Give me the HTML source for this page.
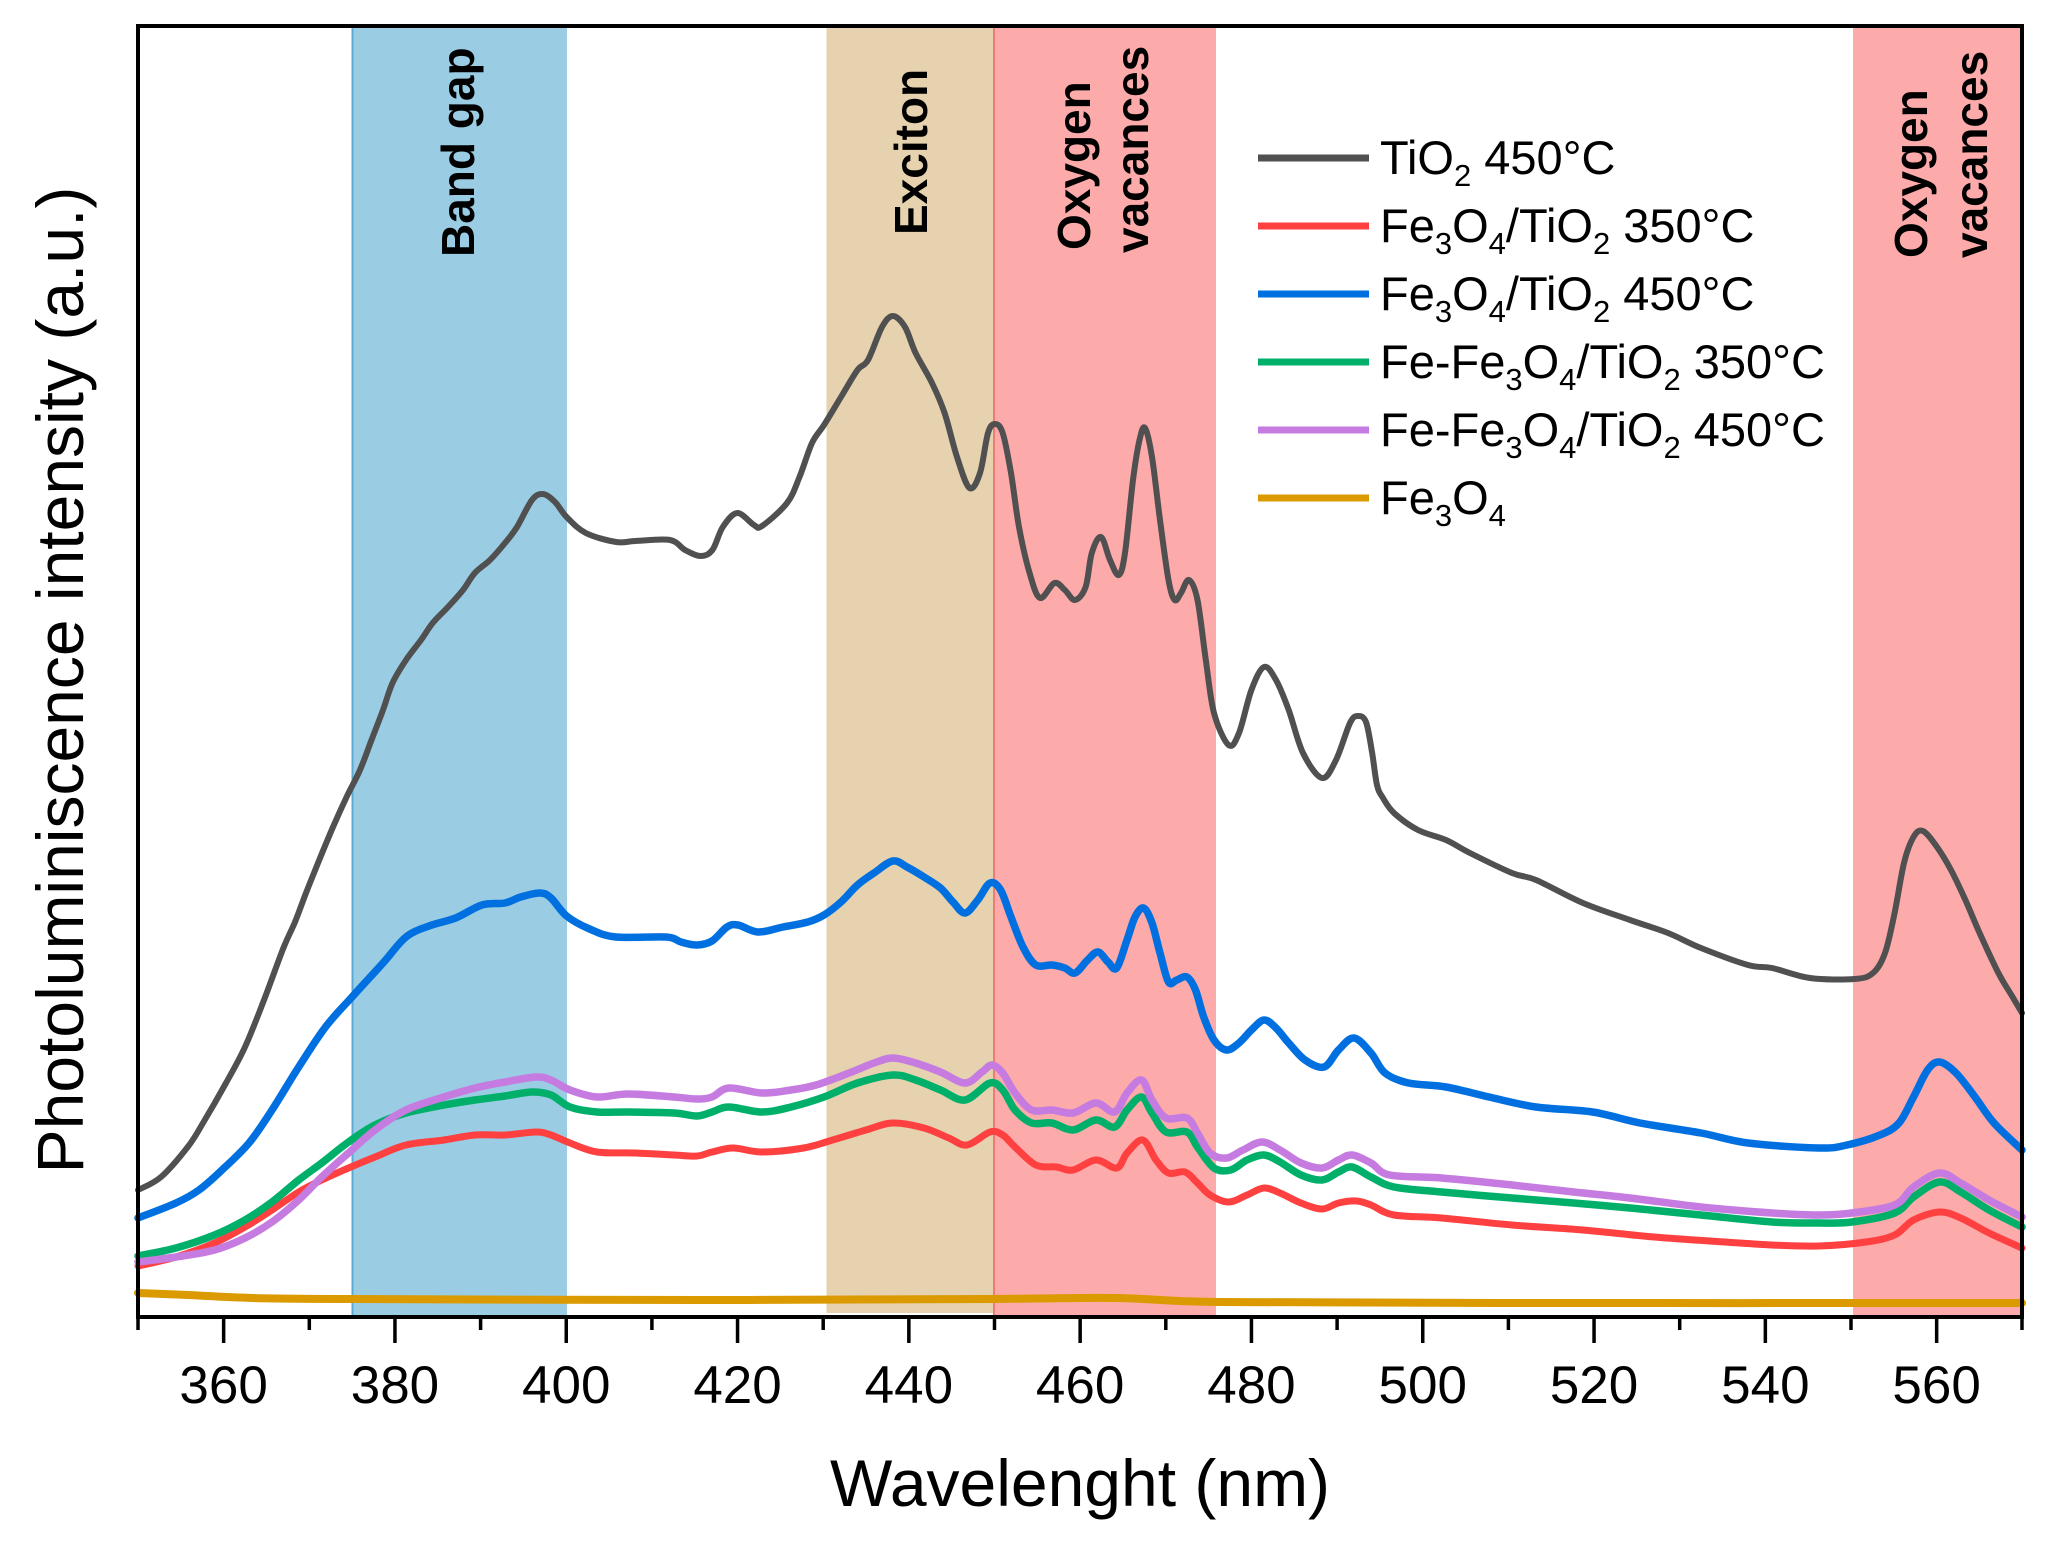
<!DOCTYPE html>
<html>
<head>
<meta charset="utf-8">
<style>
html,body{margin:0;padding:0;background:#fff;}
svg{display:block;}
text{font-family:"Liberation Sans",Arial,sans-serif;fill:#000;}
</style>
</head>
<body>
<svg id="chart" width="2054" height="1544" viewBox="0 0 2054 1544" xmlns="http://www.w3.org/2000/svg">
<rect x="0" y="0" width="2054" height="1544" fill="#fff"/>

<!-- shaded bands -->
<rect x="352" y="27" width="215" height="1290" fill="#9ACDE4"/>
<line x1="352.5" y1="27" x2="352.5" y2="1317" stroke="#5AAAD4" stroke-width="2"/>
<rect x="826.5" y="27" width="167" height="1286" fill="#E6D2AE"/>
<rect x="993.5" y="27" width="222.5" height="1290" fill="#FDAAAA"/>
<line x1="994" y1="27" x2="994" y2="1317" stroke="#EE7C74" stroke-width="2"/>
<rect x="1853" y="27" width="169" height="1290" fill="#FDAAAA"/>

<!-- band labels -->
<g font-weight="bold" font-size="46">
<text transform="translate(474,257) rotate(-90)">Band gap</text>
<text transform="translate(927,235) rotate(-90)">Exciton</text>
<text transform="translate(1090,250) rotate(-90)">Oxygen</text>
<text transform="translate(1148,253) rotate(-90)">vacances</text>
<text transform="translate(1927,258) rotate(-90)">Oxygen</text>
<text transform="translate(1987,258) rotate(-90)">vacances</text>
</g>

<!-- curves -->
<g id="curves" fill="none" stroke-linejoin="round" stroke-linecap="round">
<polyline stroke="#505050" stroke-width="6" points="138,1190 161,1177 187.7,1147 203,1123 226,1083 245,1047 264,1000 283.4,948 295,922 306,893 318,863 333,827 346.6,797 360,770 371.5,740 383,710 392.5,683 406,660 421,640 432.7,623 448,607 463,590 474.8,573 490,560 505,543 517,527 532,500 543,494 555,502 566.6,517 585.8,533 616,542 635.5,541 670,540 685,550 700.6,556 712.4,550 722.8,527 737.3,513 754,525 762,526 787,503 799.5,477 812,443 824,425 841,397 857.5,370 868,360 882,327 892.8,316 905,327 915.6,353 932,383 944.6,413 957,457 969.5,488 980,473 988,433 995,424 1002.7,433 1011,473 1019,527 1029.6,573 1040,598 1054.5,583 1064.8,590 1075,600 1085.6,587 1091.8,553 1101,537 1110,560 1118.7,575 1125,553 1133,480 1139.5,440 1145,428 1152,457 1160,520 1168.5,580 1174.7,600 1181,593 1189,580 1197.5,600 1205.8,660 1214,713 1228.6,745 1239,733 1251.4,690 1264,667 1276,680 1288.7,710 1303,753 1322,778 1336,760 1350,723 1358,716 1366,722 1372,752 1377,785 1383,798 1394,813 1418,830 1446,840 1470,853 1512,873 1536,880 1583,903 1630,920 1668,933 1701,948 1748,965 1772,968 1810,978 1854.5,979 1873,973 1885,953 1894.6,913 1904,863 1913.5,837 1923,831 1937,847 1951,870 1965.4,900 1979.6,933 1998.4,973 2012.6,997 2022,1013"/>

<polyline stroke="#FF4040" stroke-width="7" points="138,1266 176,1257 214.5,1243 245,1227 272,1210 298.7,1192 321.7,1180 348.5,1168 375,1157 406,1145 444,1140 475,1135 505,1135 536,1132 551,1135 570,1143 597,1152 635.5,1153 674,1155 697,1156 712,1152 733,1148 762,1152 803.6,1148 832.7,1140 866,1130 892.8,1123 924,1128 948.8,1138 967,1145 990,1132 1002.7,1135 1015,1147 1035.8,1165 1056.5,1167 1073,1170 1096,1160 1116.7,1168 1127,1153 1142.8,1140 1156,1160 1168.5,1173 1185,1172 1197.5,1183 1210,1195 1228.6,1202 1247,1195 1264,1188 1280,1193 1301,1203 1322,1209 1338.5,1203 1356.6,1201 1371,1205 1394,1215 1441.6,1218 1512,1225 1583,1230 1654,1237 1725,1242 1772,1245 1819,1246 1866,1242 1894.6,1235 1913.5,1220 1939.5,1212 1960.7,1218 1989,1233 2022,1248"/>

<polyline stroke="#0070E0" stroke-width="7.5" points="138,1218 176,1203 199,1190 222,1170 249,1143 272,1110 298.7,1067 325.5,1027 352,997 383,963 406,937 429,926 455.6,918 482,905 505,903 520.7,897 540,893 551,898 566.6,916 589.6,929 616,937 666,937 681,942 697,945 712,941 727,927 738,925 758,932 783,927 807.8,922 824,915 841,902 857.5,885 874,873 892.8,861 907,867 924,877 940.5,888 953,902 965,913 977.8,900 990,883 1000.6,890 1011,917 1023,947 1035.8,965 1052,965 1064.8,968 1075,973 1087.6,960 1098,952 1108,962 1116.7,968 1127,940 1135,917 1143.6,908 1152,923 1160,953 1168.5,982 1176.8,980 1187,977 1195.5,990 1203.7,1017 1214,1040 1226.5,1050 1239,1043 1251.4,1030 1264,1020 1276,1028 1288.7,1043 1305,1060 1324,1067 1338.5,1050 1354,1038 1371,1053 1385,1073 1408.5,1083 1446,1087 1489,1097 1536,1107 1592.6,1112 1640,1123 1701,1133 1748,1143 1819,1148 1847,1145 1880,1135 1899,1123 1913.5,1097 1927.6,1070 1939.5,1062 1956,1073 1975,1097 1994,1123 2022,1150"/>

<polyline stroke="#00B06A" stroke-width="7.5" points="138,1256 176,1248 214.5,1235 245,1220 272,1202 298.7,1180 321.7,1163 348.5,1142 375,1125 406,1113 444,1105 475,1100 505,1096 532,1092 551,1095 570,1107 597,1112 628,1112 674,1113 697,1116 712,1112 729,1107 762,1112 791,1107 824,1097 857.5,1083 892.8,1075 915.6,1080 940.5,1090 965,1100 990,1083 1002.7,1090 1015,1110 1031.7,1123 1052,1123 1073,1130 1096,1120 1114.6,1127 1127,1110 1141.5,1097 1152,1113 1166,1132 1187,1132 1197.5,1147 1214,1168 1230.7,1170 1247,1160 1264,1155 1280,1162 1301,1175 1322,1180 1338.5,1172 1352,1167 1371,1177 1394,1187 1441.6,1192 1512,1198 1573.7,1203 1630,1208 1701,1215 1772,1222 1819,1223 1852,1222 1894.6,1213 1913.5,1197 1939.5,1182 1960.7,1192 1989,1210 2022,1227"/>

<polyline stroke="#C57BE0" stroke-width="7.5" points="138,1262 176,1257 214.5,1250 245,1238 272,1222 298.7,1200 321.7,1177 348.5,1153 375,1130 406,1110 444,1097 475,1088 505,1082 536,1077 551,1080 570,1090 597,1097 628,1094 674,1097 697,1099 712,1097 729,1088 762,1093 791,1090 816,1085 849,1073 874,1063 892.8,1058 915.6,1063 940.5,1072 965,1083 982,1072 992,1065 1002.7,1073 1015,1093 1031.7,1110 1052,1110 1073,1113 1096,1103 1114.6,1112 1127,1093 1141.5,1080 1152,1100 1166,1118 1187,1118 1197.5,1133 1210,1153 1226.5,1158 1243,1150 1262,1142 1280,1150 1301,1163 1322,1168 1338.5,1160 1352,1155 1371,1163 1389.7,1175 1441.6,1178 1512,1185 1573.7,1192 1630,1198 1701,1207 1772,1213 1819,1215 1852,1213 1894.6,1205 1913.5,1187 1939.5,1173 1960.7,1183 1989,1200 2022,1217"/>

<polyline stroke="#DB9A00" stroke-width="8" points="138,1293 188,1295 253,1298 352,1299 700,1300 990,1299 1115,1298 1218,1302 1500,1303 2022,1303"/>
</g>

<!-- axes frame -->
<rect x="138" y="26" width="1884" height="1291" fill="none" stroke="#000" stroke-width="4"/>

<!-- ticks -->
<g stroke="#000" stroke-width="3.5">
<line x1="138" y1="1317" x2="138" y2="1330"/>
<line x1="223.65" y1="1317" x2="223.65" y2="1343"/>
<line x1="309.3" y1="1317" x2="309.3" y2="1330"/>
<line x1="394.95" y1="1317" x2="394.95" y2="1343"/>
<line x1="480.6" y1="1317" x2="480.6" y2="1330"/>
<line x1="566.25" y1="1317" x2="566.25" y2="1343"/>
<line x1="651.9" y1="1317" x2="651.9" y2="1330"/>
<line x1="737.55" y1="1317" x2="737.55" y2="1343"/>
<line x1="823.2" y1="1317" x2="823.2" y2="1330"/>
<line x1="908.85" y1="1317" x2="908.85" y2="1343"/>
<line x1="994.5" y1="1317" x2="994.5" y2="1330"/>
<line x1="1080.15" y1="1317" x2="1080.15" y2="1343"/>
<line x1="1165.8" y1="1317" x2="1165.8" y2="1330"/>
<line x1="1251.45" y1="1317" x2="1251.45" y2="1343"/>
<line x1="1337.1" y1="1317" x2="1337.1" y2="1330"/>
<line x1="1422.75" y1="1317" x2="1422.75" y2="1343"/>
<line x1="1508.4" y1="1317" x2="1508.4" y2="1330"/>
<line x1="1594.05" y1="1317" x2="1594.05" y2="1343"/>
<line x1="1679.7" y1="1317" x2="1679.7" y2="1330"/>
<line x1="1765.35" y1="1317" x2="1765.35" y2="1343"/>
<line x1="1851" y1="1317" x2="1851" y2="1330"/>
<line x1="1936.65" y1="1317" x2="1936.65" y2="1343"/>
<line x1="2022" y1="1317" x2="2022" y2="1330"/>
</g>

<!-- tick labels -->
<g font-size="53" text-anchor="middle">
<text x="223.65" y="1403">360</text>
<text x="394.95" y="1403">380</text>
<text x="566.25" y="1403">400</text>
<text x="737.55" y="1403">420</text>
<text x="908.85" y="1403">440</text>
<text x="1080.15" y="1403">460</text>
<text x="1251.45" y="1403">480</text>
<text x="1422.75" y="1403">500</text>
<text x="1594.05" y="1403">520</text>
<text x="1765.35" y="1403">540</text>
<text x="1936.65" y="1403">560</text>
</g>

<!-- axis titles -->
<text x="1080" y="1506" font-size="66" text-anchor="middle">Wavelenght (nm)</text>
<text transform="translate(83,680) rotate(-90)" font-size="66" text-anchor="middle">Photoluminiscence intensity (a.u.)</text>

<!-- legend -->
<g stroke-width="7">
<line x1="1258" y1="158" x2="1369" y2="158" stroke="#505050"/>
<line x1="1258" y1="226" x2="1369" y2="226" stroke="#FF4040"/>
<line x1="1258" y1="294" x2="1369" y2="294" stroke="#0070E0"/>
<line x1="1258" y1="362" x2="1369" y2="362" stroke="#00B06A"/>
<line x1="1258" y1="430" x2="1369" y2="430" stroke="#C57BE0"/>
<line x1="1258" y1="498" x2="1369" y2="498" stroke="#DB9A00"/>
</g>
<g font-size="47">
<text x="1380" y="174">TiO<tspan font-size="31" dy="12">2</tspan><tspan dy="-12"> 450°C</tspan></text>
<text x="1380" y="242">Fe<tspan font-size="31" dy="12">3</tspan><tspan dy="-12">O</tspan><tspan font-size="31" dy="12">4</tspan><tspan dy="-12">/TiO</tspan><tspan font-size="31" dy="12">2</tspan><tspan dy="-12"> 350°C</tspan></text>
<text x="1380" y="310">Fe<tspan font-size="31" dy="12">3</tspan><tspan dy="-12">O</tspan><tspan font-size="31" dy="12">4</tspan><tspan dy="-12">/TiO</tspan><tspan font-size="31" dy="12">2</tspan><tspan dy="-12"> 450°C</tspan></text>
<text x="1380" y="378">Fe-Fe<tspan font-size="31" dy="12">3</tspan><tspan dy="-12">O</tspan><tspan font-size="31" dy="12">4</tspan><tspan dy="-12">/TiO</tspan><tspan font-size="31" dy="12">2</tspan><tspan dy="-12"> 350°C</tspan></text>
<text x="1380" y="446">Fe-Fe<tspan font-size="31" dy="12">3</tspan><tspan dy="-12">O</tspan><tspan font-size="31" dy="12">4</tspan><tspan dy="-12">/TiO</tspan><tspan font-size="31" dy="12">2</tspan><tspan dy="-12"> 450°C</tspan></text>
<text x="1380" y="514">Fe<tspan font-size="31" dy="12">3</tspan><tspan dy="-12">O</tspan><tspan font-size="31" dy="12">4</tspan></text>
</g>
</svg>
<script>
(function(){
  try{
    var NS="http://www.w3.org/2000/svg";
    var g=document.getElementById("curves");
    var pls=g.getElementsByTagName("polyline");
    var list=[];
    for(var i=0;i<pls.length;i++){list.push(pls[i]);}
    list.forEach(function(pl){
      var raw=pl.getAttribute("points").trim().split(/\s+/);
      var p=raw.map(function(s){var a=s.split(",");return [parseFloat(a[0]),parseFloat(a[1])];});
      if(p.length<3)return;
      var d="M"+p[0][0]+","+p[0][1];
      var t=0.5;
      for(var k=0;k<p.length-1;k++){
        var p0=p[k>0?k-1:0],p1=p[k],p2=p[k+1],p3=p[k+2<p.length?k+2:p.length-1];
        var c1x=p1[0]+(p2[0]-p0[0])/6*t*2, c1y=p1[1]+(p2[1]-p0[1])/6*t*2;
        var c2x=p2[0]-(p3[0]-p1[0])/6*t*2, c2y=p2[1]-(p3[1]-p1[1])/6*t*2;
        d+=" C"+c1x.toFixed(2)+","+c1y.toFixed(2)+" "+c2x.toFixed(2)+","+c2y.toFixed(2)+" "+p2[0]+","+p2[1];
      }
      var path=document.createElementNS(NS,"path");
      path.setAttribute("d",d);
      path.setAttribute("stroke",pl.getAttribute("stroke"));
      path.setAttribute("stroke-width",pl.getAttribute("stroke-width"));
      path.setAttribute("fill","none");
      path.setAttribute("stroke-linejoin","round");
      path.setAttribute("stroke-linecap","round");
      g.replaceChild(path,pl);
    });
  }catch(e){}
})();
</script>
</body>
</html>
